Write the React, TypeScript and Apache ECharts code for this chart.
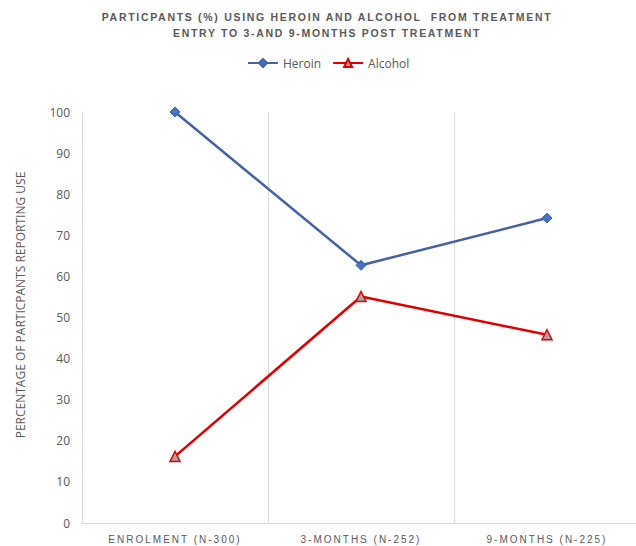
import React, { useEffect, useRef } from "react";
import * as echarts from "echarts";

const categories = ["ENROLMENT (N-300)", "3-MONTHS (N-252)", "9-MONTHS (N-225)"];
const heroin = [100, 62.7, 74.2];
const alcohol = [16.2, 55.1, 45.8];
const titleLines = [
  "PARTICPANTS (%) USING HEROIN AND ALCOHOL  FROM TREATMENT",
  "ENTRY TO 3-AND 9-MONTHS POST TREATMENT",
];
const yAxisName = "PERCENTAGE OF PARTICPANTS REPORTING USE";

export default function App() {
  const ref = useRef<HTMLDivElement>(null);
  useEffect(() => {
    if (!ref.current) return;
    const el = ref.current;
    const chart = echarts.init(el, null, { renderer: "svg" });
    const gray = "#595959";
    chart.setOption({
      animation: false,
      backgroundColor: "#ffffff",
      title: {
        text: titleLines.join("\n"),
        left: 322,
        textAlign: "center",
        top: 4,
        textStyle: {
          fontFamily: "Liberation Sans",
          fontWeight: "bold",
          fontSize: 10.5,
          color: gray,
          lineHeight: 16,
        },
      },
      legend: {
        top: 52,
        left: 242,
        itemWidth: 30,
        itemHeight: 10,
        itemGap: 11,
        textStyle: { fontFamily: "Open Sans", fontSize: 12, color: gray },
        data: ["Heroin", "Alcohol"],
      },
      graphic: [
        {
          type: "text",
          x: 20,
          y: 305,
          rotation: Math.PI / 2,
          style: {
            text: yAxisName,
            fontFamily: "Open Sans",
            fontSize: 12,
            fill: gray,
            align: "center",
            verticalAlign: "middle",
          },
        },
      ],
      grid: { left: 82, top: 112, width: 558, height: 411, containLabel: false },
      xAxis: {
        type: "category",
        data: categories,
        boundaryGap: true,
        axisLine: { show: true, lineStyle: { color: "#d9d9d9", width: 1 } },
        axisTick: { show: false },
        axisLabel: {
          fontFamily: "Liberation Sans",
          fontSize: 10,
          color: gray,
          margin: 11,
        },
        splitLine: { show: true, lineStyle: { color: "#d9d9d9", width: 1 } },
      },
      yAxis: {
        type: "value",
        min: 0,
        max: 100,
        interval: 10,
        axisLine: { show: true, lineStyle: { color: "#d9d9d9", width: 1 } },
        axisTick: { show: false },
        axisLabel: { fontFamily: "Open Sans", fontSize: 12, color: gray, margin: 12 },
        splitLine: { show: false },
      },
      series: [
        {
          name: "Heroin",
          type: "line",
          data: heroin,
          symbol: "diamond",
          symbolSize: 10,
          lineStyle: { color: "#4263A6", width: 2.5 },
          itemStyle: { color: "#4472C4", borderColor: "#4263A6", borderWidth: 1 },
        },
        {
          name: "Alcohol",
          type: "line",
          data: alcohol,
          symbol: "triangle",
          symbolSize: 10,
          lineStyle: { color: "#E00000", width: 2.5 },
          itemStyle: { color: "#A5A5A5", borderColor: "#E00000", borderWidth: 1.5 },
        },
      ],
    });
    const applySpacing = () => {
      el.querySelectorAll("text").forEach((t) => {
        const s = (t.textContent || "").trim();
        if (titleLines.some((l) => l.trim() === s)) {
          t.setAttribute("letter-spacing", "1.7");
        } else if (categories.includes(s)) {
          t.setAttribute("letter-spacing", "2");
        }
      });
    };
    applySpacing();
    chart.on("finished", applySpacing);
    return () => chart.dispose();
  }, []);
  return (
    <div
      style={{
        position: "fixed",
        left: 0,
        top: 0,
        width: 636,
        height: 546,
        overflow: "hidden",
        background: "#fff",
      }}
    >
      <div ref={ref} style={{ width: 644, height: 546 }} />
    </div>
  );
}
